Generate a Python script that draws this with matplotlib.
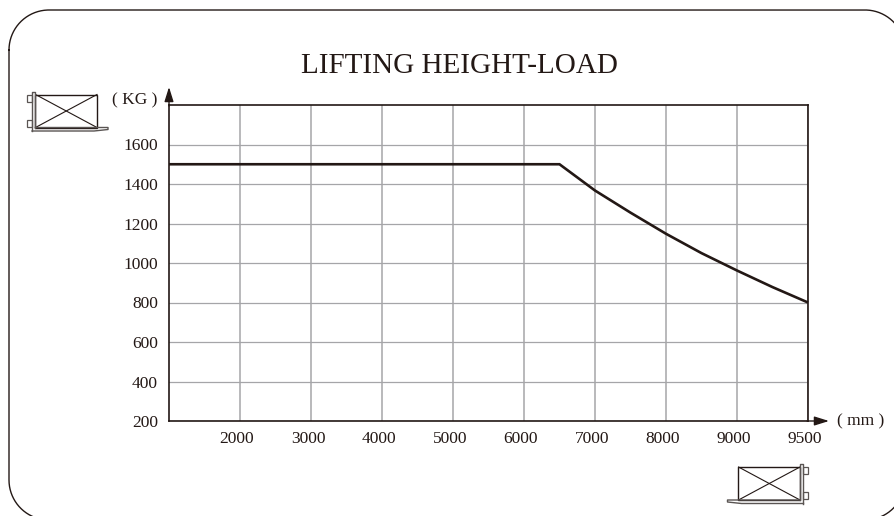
import numpy as np
import matplotlib
matplotlib.use("Agg")
import matplotlib.pyplot as plt
from matplotlib.patches import Rectangle
from matplotlib.ticker import NullLocator
from matplotlib.transforms import ScaledTranslation

plt.rcParams['font.family'] = ['Liberation Serif', 'DejaVu Serif']

# values
x_ticks = [2000, 3000, 4000, 5000, 6000, 7000, 8000, 9000, 9500]
y_ticks = [200, 400, 600, 800, 1000, 1200, 1400, 1600]
height = [1000, 6500, 7000, 7500, 8000, 8500, 9000, 9250, 9500]
load = [1500, 1500, 1367, 1255, 1148, 1050, 962, 878, 800]

dark = '#231815'
mid = '#5a5553'
grey = '#a5a5a8'
W, H = 895, 516


# the last axis step (9000-9500) is drawn as wide as a full 1000
def forward(x):
    return np.interp(x, [1000, 9000, 9500], [1000, 9000, 10000])


def inverse(x):
    return np.interp(x, [1000, 9000, 10000], [1000, 9000, 9500])


fig = plt.figure(figsize=(W / 100, H / 100), dpi=100)

# full size layer in pixels, for the frame, title and fork icons
bg = fig.add_axes([0, 0, 1, 1])
bg.set_xlim(0, W)
bg.set_ylim(H, 0)
bg.axis('off')

# rounded frame, it runs off the picture on the right and at the bottom
r = 40
fx, fy = [], []
for cx, cy, a in [(9 + r, 10 + r, 180), (905 - r, 10 + r, 270), (905 - r, 520 - r, 0), (9 + r, 520 - r, 90)]:
    t = np.radians(np.linspace(a, a + 90, 40))
    fx.extend(cx + r * np.cos(t))
    fy.extend(cy + r * np.sin(t))
bg.plot(fx + fx[:1], fy + fy[:1], color=dark, lw=1.0)

bg.text(459, 66, "LIFTING HEIGHT-LOAD", fontsize=21, ha='center', va='center', color=dark)
bg.text(134.5, 100, "( KG )", fontsize=12.5, ha='center', va='center', color=dark)
bg.text(861, 421, "( mm )", fontsize=12.5, ha='center', va='center', color=dark)


def draw_fork(x0, y0, side):
    # x0, y0 is the top of the mast, side=1 has the load to the right of it
    def sx(d):
        return x0 + side * d
    # load box with its cross
    bg.add_patch(Rectangle((min(sx(3.5), sx(65)), y0 + 3), 61.5, 33, fc='none', ec=dark, lw=1.0))
    bg.plot([sx(3.5), sx(65)], [y0 + 3, y0 + 36], color=dark, lw=0.8)
    bg.plot([sx(3.5), sx(65)], [y0 + 36, y0 + 3], color=dark, lw=0.8)
    # mast and fork
    bg.plot([sx(0), sx(0), sx(3.5), sx(3.5)], [y0 + 39.5, y0, y0, y0 + 36], color=mid, lw=1.0)
    bg.plot([sx(0), sx(62), sx(76), sx(76), sx(3.5)],
            [y0 + 39.5, y0 + 39.5, y0 + 38, y0 + 36, y0 + 36], color=mid, lw=1.0)
    # carriage hooks
    for dy in (3, 28):
        bg.add_patch(Rectangle((min(sx(0), sx(-4.5)), y0 + dy), 4.5, 7, fc='white', ec=mid, lw=0.9))


draw_fork(32, 91.5, 1)
draw_fork(803.5, 464, -1)

# chart area in pixels: 169..808 across, 105..421 down
ax = fig.add_axes([169 / W, 1 - 421 / H, (808 - 169) / W, (421 - 105) / H])
ax.set_xscale('function', functions=(forward, inverse))
ax.set_xlim(1000, 9500)
ax.set_ylim(200, 1800)
ax.patch.set_alpha(0)
ax.set_xticks(x_ticks)
ax.set_xticklabels([str(v) for v in x_ticks])
ax.set_yticks(y_ticks)
ax.set_yticklabels([str(v) for v in y_ticks])
ax.xaxis.set_minor_locator(NullLocator())
ax.yaxis.set_minor_locator(NullLocator())
ax.xaxis.grid(True, color=grey, lw=1.1)
ax.yaxis.grid(True, color=grey, lw=0.9)
ax.set_axisbelow(True)
ax.tick_params(length=0, labelsize=12.5, labelcolor=dark)
ax.tick_params(axis='y', pad=8)
ax.tick_params(axis='x', pad=7)
# the x labels sit a little left of their grid lines
for lab in ax.get_xticklabels():
    lab.set_transform(lab.get_transform() + ScaledTranslation(-3 / 100, 0, fig.dpi_scale_trans))
for s in ax.spines.values():
    s.set_color(dark)
    s.set_linewidth(1.2)

ax.plot(height, load, color=dark, lw=1.9, clip_on=False, solid_joinstyle='miter',
        solid_capstyle='butt', zorder=3)

# axis arrows
arrow = dict(arrowstyle='-|>,head_length=0.8,head_width=0.25', color=dark, lw=1.0,
             mutation_scale=11, shrinkA=0, shrinkB=0)
bg.annotate('', xy=(169, 87), xytext=(169, 106), arrowprops=arrow)
bg.annotate('', xy=(829, 421), xytext=(807, 421), arrowprops=arrow)

fig.savefig('out.png', dpi=100)
